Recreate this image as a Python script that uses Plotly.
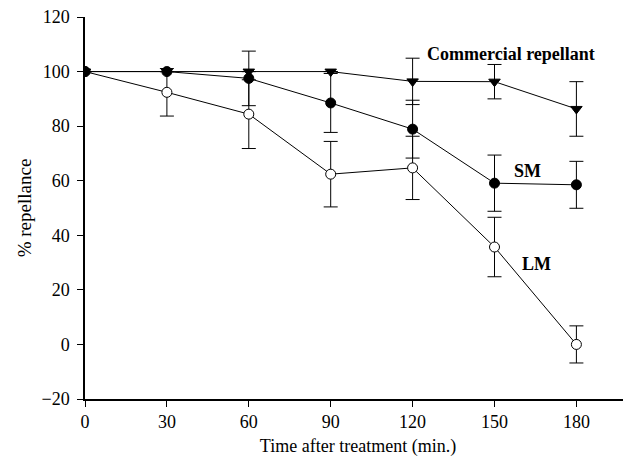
import plotly.graph_objects as go

time_min = [0, 30, 60, 90, 120, 150, 180]

commercial = [100, 100, 100, 100, 96.4, 96.3, 86.3]
commercial_err = [0, 0, 0, 0, 8.5, 6.3, 10.0]

sm = [100, 100, 97.5, 88.5, 78.9, 59.1, 58.5]
sm_err = [0, 0, 10.0, 10.8, 10.6, 10.3, 8.6]

lm = [100, 92.4, 84.4, 62.4, 64.7, 35.7, 0]
lm_err = [0, 8.7, 12.6, 12.0, 11.6, 10.9, 6.8]

y_ticks = [-20, 0, 20, 40, 60, 80, 100, 120]
x_ticks = [0, 30, 60, 90, 120, 150, 180]

labels = [
    ("Commercial repellant", 156, 106.6),
    ("SM", 162, 63.6),
    ("LM", 165.4, 29.3),
]

FONT = "Liberation Serif, Times New Roman, serif"

fig = go.Figure()

def add_series(y, err, symbol, fill):
    fig.add_trace(go.Scatter(
        x=time_min, y=y, mode="lines+markers",
        line=dict(color="black", width=1),
        marker=dict(symbol=symbol, size=10, color=fill,
                    line=dict(color="black", width=1)),
        error_y=dict(type="data", array=err, visible=True,
                     color="black", thickness=1, width=7),
        showlegend=False,
    ))

add_series(lm, lm_err, "circle", "white")
add_series(commercial, commercial_err, "triangle-down", "black")
add_series(sm, sm_err, "circle", "black")

for text, x, y in labels:
    fig.add_annotation(x=x, y=y, text=f"<b>{text}</b>", showarrow=False,
                       font=dict(family=FONT, size=18, color="black"))

# page body adds an 8px offset, so the figure is sized to the visible area
fig.update_layout(
    width=623, height=459,
    margin=dict(l=77, r=0, t=9, b=68, autoexpand=False),
    paper_bgcolor="white", plot_bgcolor="white",
    font=dict(family=FONT, size=18, color="black"),
)
fig.update_xaxes(
    range=[0, 200], tickvals=x_ticks, ticks="outside", ticklen=6,
    tickwidth=1, tickcolor="black", showline=True, linecolor="black",
    linewidth=1.5, showgrid=False, zeroline=False, automargin=False,
    tickfont=dict(family=FONT, size=18), ticklabeloverflow="allow",
    title=dict(text="Time after treatment (min.)", standoff=8,
               font=dict(family=FONT, size=18)),
)
fig.update_yaxes(
    range=[-20, 120], tickvals=y_ticks, ticks="outside", ticklen=6,
    tickwidth=1, tickcolor="black", showline=True, linecolor="black",
    linewidth=1.5, showgrid=False, zeroline=False, automargin=False,
    tickfont=dict(family=FONT, size=18), ticklabelstandoff=4,
    ticklabeloverflow="allow",
    title=dict(text="% repellance", standoff=5,
               font=dict(family=FONT, size=19)),
)

fig.write_html("out.html")
